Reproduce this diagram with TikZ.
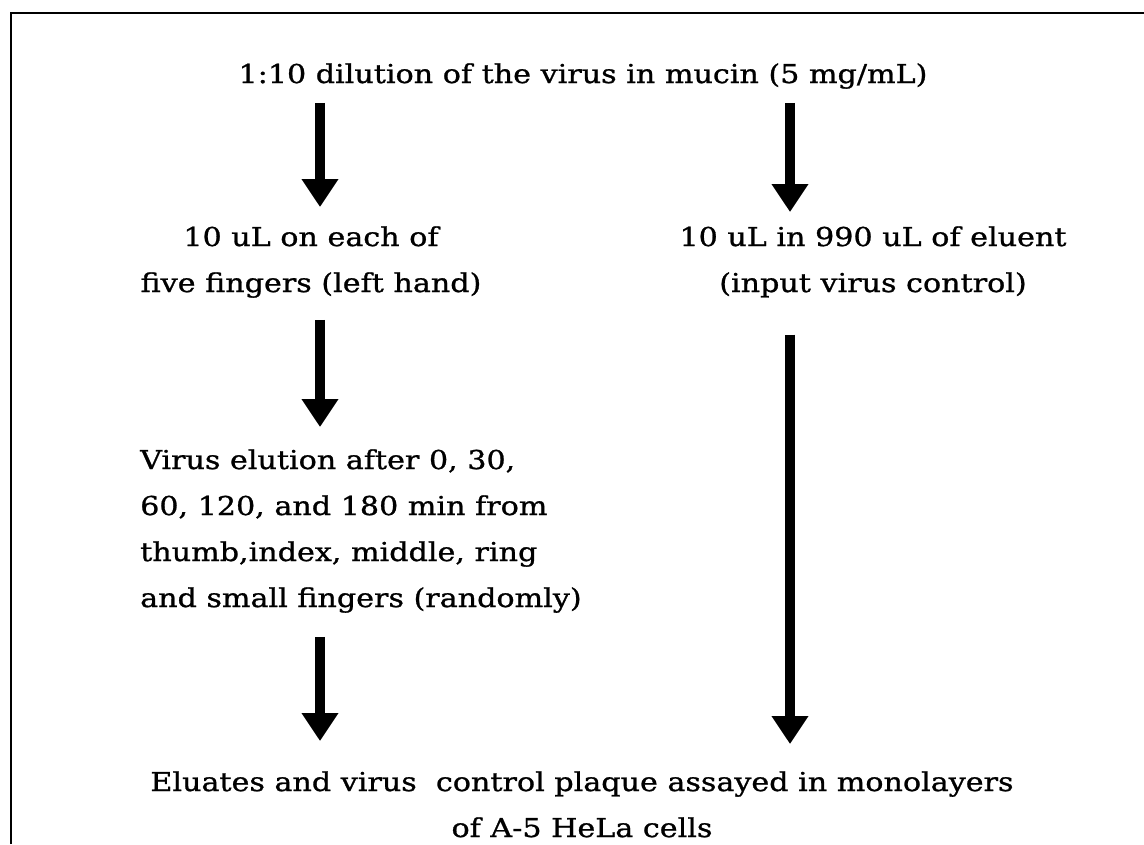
\documentclass[tikz,border=0pt]{standalone}
\usepackage{fontspec}
\setmainfont[FakeStretch=1.16,FakeBold=1]{DejaVu Serif}
\usetikzlibrary{arrows.meta}
\begin{document}
\begin{tikzpicture}[x=1pt,y=-1pt,
  txt/.style={inner sep=0pt,font=\fontsize{26}{46}\selectfont},
  flow/.style={line width=10pt,-{Triangle[width=35pt,length=28pt]},
    shorten <=22pt,shorten >=22pt}]
  \useasboundingbox (0,0) rectangle (1144,844);
  % cadre (haut et gauche seulement)
  \draw[line width=2pt] (11,844) -- (11,13) -- (1144,13);

  % colonnes des fleches
  \coordinate (colL) at (320,0);
  \coordinate (colR) at (790,0);

  % textes
  \node[txt,anchor=base] (dilution) at (583,83)
    {1:10 dilution of the virus in mucin (5 mg/mL)};
  \node[txt,anchor=base,align=center] (fingers) at (311,292)
    {10 uL on each of\\five fingers (left hand)};
  \node[txt,anchor=base,align=center] (control) at (873,292)
    {10 uL in 990 uL of eluent\\(input virus control)};
  \node[txt,anchor=base west,align=left] (elution) at (140,607)
    {Virus elution after 0, 30,\\60, 120, and 180 min from\\thumb,index, middle, ring\\and small fingers (randomly)};
  \node[txt,anchor=base,align=center] (assay) at (582,837)
    {Eluates and virus~ control plaque assayed in monolayers\\of A-5 HeLa cells};

  % fleches
  \draw[flow,shorten <=14pt,shorten >=19pt] (dilution.south -| colL) -- (fingers.north -| colL);
  \draw[flow,shorten <=14pt,shorten >=14pt] (dilution.south -| colR) -- (control.north -| colR);
  \draw[flow] (fingers.south -| colL) -- (elution.north -| colL);
  \draw[flow,shorten <=24pt,shorten >=30pt] (elution.south -| colL) -- (assay.north -| colL);
  \draw[flow,shorten <=37pt,shorten >=27pt] (control.south -| colR) -- (assay.north -| colR);
\end{tikzpicture}
\end{document}
